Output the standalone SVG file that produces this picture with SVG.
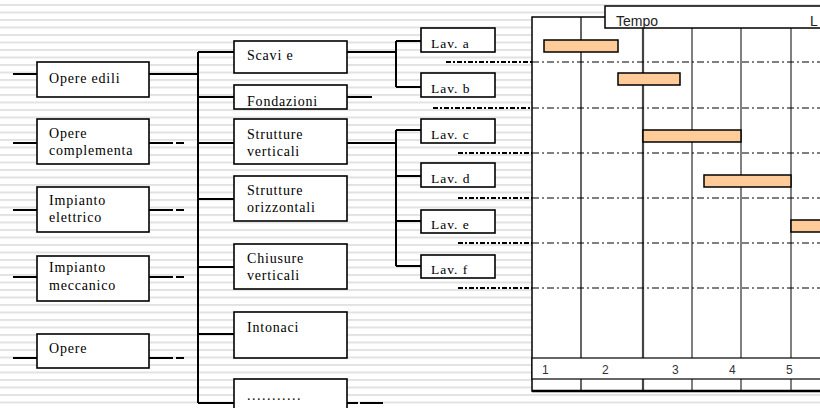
<svg xmlns="http://www.w3.org/2000/svg" width="820" height="408" viewBox="0 0 820 408">
<defs>
<pattern id="stripes" x="0" y="4" width="8" height="7.5" patternUnits="userSpaceOnUse">
<rect x="0" y="0" width="8" height="2" fill="#e2e2e2"/>
</pattern>
</defs>
<style>
.box{fill:#fff;stroke:#000;stroke-width:1.6}
.t{font-family:"Liberation Serif","Times New Roman",serif;font-size:14px;letter-spacing:0.8px;fill:#000}
.tl{font-family:"Liberation Serif","Times New Roman",serif;font-size:13.5px;letter-spacing:1px;fill:#000}
.c{fill:none;stroke:#000;stroke-width:2}
.dd{fill:none;stroke:#000;stroke-width:2.2;stroke-dasharray:5 2 2 2}
.ddt{fill:none;stroke:#000;stroke-width:1;stroke-dasharray:7 3 2 3}
.vg{stroke:#808080;stroke-width:2}
.bar{fill:#ffcc99;stroke:#000;stroke-width:1.5}
.s{font-family:"Liberation Sans",Arial,sans-serif;font-size:14px;fill:#222}
.n{font-family:"Liberation Sans",Arial,sans-serif;font-size:12px;fill:#333}
</style>
<rect width="820" height="408" fill="#fff"/>
<rect width="820" height="408" fill="url(#stripes)"/>

<g id="connectors">
<path class="c" d="M13 74H37M149 74H198M13 143H37M149 143H173M176 143H184M13 210H37M149 210H173M176 210H184M13 277H37M149 277H173M176 277H184M13 358H37M149 358H173M176 358H184"/>
<path class="c" d="M198 52V403M198 52H234M198 97H234M198 143H234M198 199H234M198 267H234M198 334H234M198 403H234"/>
<path class="c" d="M347 52H396M347 97H372M347 143H396M347 403H358M360 403H383"/>
<path class="c" d="M396 41V87M396 41H421M396 87H421M396 130V266M396 130H421M396 176H421M396 221H421M396 266H421"/>
<path class="dd" d="M446 62H532M433 108H532M458 153H532M458 198H532M458 243H532M458 288H532"/>
</g>

<g id="node-opere-edili"><rect class="box" x="37" y="62" width="112" height="35"/><text class="t" x="49" y="83">Opere edili</text></g>
<g id="node-opere-complementari"><rect class="box" x="37" y="119" width="112" height="45"/><text class="t" x="49" y="138">Opere</text><text class="t" x="49" y="155">complementa</text></g>
<g id="node-impianto-elettrico"><rect class="box" x="37" y="187" width="112" height="45"/><text class="t" x="49" y="205">Impianto</text><text class="t" x="49" y="222">elettrico</text></g>
<g id="node-impianto-meccanico"><rect class="box" x="37" y="256" width="112" height="45"/><text class="t" x="49" y="272">Impianto</text><text class="t" x="49" y="290">meccanico</text></g>
<g id="node-opere-5"><rect class="box" x="37" y="334" width="112" height="34"/><text class="t" x="49" y="353">Opere</text></g>

<g id="node-scavi"><rect class="box" x="234" y="41" width="113" height="32"/><text class="t" x="247" y="60">Scavi e</text></g>
<g id="node-fondazioni"><rect class="box" x="234" y="85" width="113" height="24"/><text class="t" x="247" y="106">Fondazioni</text></g>
<g id="node-strutture-verticali"><rect class="box" x="234" y="119" width="113" height="45"/><text class="t" x="247" y="139">Strutture</text><text class="t" x="247" y="156">verticali</text></g>
<g id="node-strutture-orizzontali"><rect class="box" x="234" y="176" width="113" height="45"/><text class="t" x="247" y="195">Strutture</text><text class="t" x="247" y="212">orizzontali</text></g>
<g id="node-chiusure"><rect class="box" x="234" y="244" width="113" height="45"/><text class="t" x="247" y="263">Chiusure</text><text class="t" x="247" y="280">verticali</text></g>
<g id="node-intonaci"><rect class="box" x="234" y="312" width="113" height="46"/><text class="t" x="247" y="332">Intonaci</text></g>
<g id="node-altro"><rect class="box" x="234" y="379" width="113" height="40"/><text class="t" x="247" y="400" style="letter-spacing:1.5px">...........</text></g>

<g id="node-lav-a"><rect class="box" x="421" y="28" width="74" height="24"/><text class="tl" x="431" y="48">Lav. a</text></g>
<g id="node-lav-b"><rect class="box" x="421" y="73" width="74" height="24"/><text class="tl" x="431" y="93">Lav. b</text></g>
<g id="node-lav-c"><rect class="box" x="421" y="119" width="74" height="24"/><text class="tl" x="431" y="139">Lav. c</text></g>
<g id="node-lav-d"><rect class="box" x="421" y="163" width="74" height="24"/><text class="tl" x="431" y="183">Lav. d</text></g>
<g id="node-lav-e"><rect class="box" x="421" y="210" width="74" height="23"/><text class="tl" x="431" y="229">Lav. e</text></g>
<g id="node-lav-f"><rect class="box" x="421" y="255" width="74" height="23"/><text class="tl" x="431" y="274">Lav. f</text></g>

<g id="gantt">
<rect x="532" y="17" width="300" height="374" fill="#fff" stroke="#000" stroke-width="1.5"/>
<path d="M581 17V358M581 379V391" stroke="#000" stroke-width="1.2"/>
<path d="M643 28V358M643 379V391" stroke="#444" stroke-width="2.2"/>
<path class="vg" d="M692 28V358M692 379V391M741 28V358M741 379V391M791 28V358M791 379V391"/>
<path class="ddt" d="M532 62H820M532 108H820M532 153H820M532 198H820M532 243H820M532 288H820"/>
<rect class="bar" x="544" y="40" width="74" height="12"/>
<rect class="bar" x="618" y="73" width="62" height="12"/>
<rect class="bar" x="643" y="130" width="98" height="12"/>
<rect class="bar" x="704" y="175" width="87" height="12"/>
<rect class="bar" x="791" y="220" width="40" height="12"/>
<rect x="532" y="358" width="300" height="21" fill="#fff" stroke="#000" stroke-width="1.2"/>
<path d="M532 391H820" stroke="#000" stroke-width="2.5"/>
<text class="n" x="542" y="374">1</text>
<text class="n" x="602" y="374">2</text>
<text class="n" x="672" y="374">3</text>
<text class="n" x="729" y="374">4</text>
<text class="n" x="786" y="374">5</text>
<rect x="605" y="6" width="230" height="22" fill="#fff" stroke="#000" stroke-width="1.5"/>
<text class="s" x="616" y="26">Tempo</text>
<text class="s" x="810" y="26">L</text>
</g>
</svg>
